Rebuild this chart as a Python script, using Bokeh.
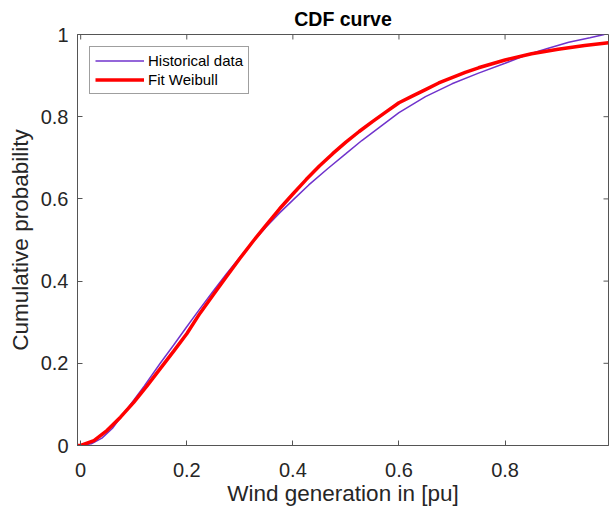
import math
from bokeh.plotting import figure
from bokeh.models import FixedTicker, Range1d, Legend, LegendItem
from bokeh.embed import file_html
from bokeh.resources import INLINE

# ---- data ----
hist_x = [0.0, 0.02, 0.04, 0.06, 0.075, 0.10, 0.12, 0.15, 0.175, 0.20, 0.225,
          0.25, 0.275, 0.30, 0.325, 0.35, 0.375, 0.40, 0.43, 0.466, 0.50, 0.53,
          0.56, 0.60, 0.65, 0.70, 0.75, 0.80, 0.84, 0.88, 0.92, 0.96, 0.987]
hist_y = [0.0, 0.004, 0.018, 0.042, 0.068, 0.110, 0.145, 0.200, 0.244, 0.289, 0.333,
          0.376, 0.418, 0.458, 0.496, 0.532, 0.566, 0.597, 0.634, 0.674, 0.710, 0.742,
          0.771, 0.810, 0.849, 0.880, 0.906, 0.930, 0.950, 0.966, 0.981, 0.992, 1.0]

fit_x = [-0.006, 0.0, 0.025, 0.05, 0.075, 0.10, 0.125, 0.15, 0.175, 0.20, 0.225,
         0.25, 0.275, 0.30, 0.325, 0.35, 0.375, 0.40, 0.425, 0.45, 0.475, 0.50,
         0.525, 0.55, 0.575, 0.60, 0.625, 0.65, 0.675, 0.70, 0.725, 0.75, 0.80,
         0.85, 0.90, 0.95, 0.995]
fit_y = [0.0, 0.0, 0.012, 0.037, 0.069, 0.105, 0.145, 0.187, 0.229, 0.272, 0.322,
         0.367, 0.411, 0.455, 0.497, 0.537, 0.576, 0.612, 0.647, 0.680, 0.710, 0.738,
         0.764, 0.788, 0.811, 0.834, 0.850, 0.866, 0.882, 0.895, 0.908, 0.919, 0.938,
         0.953, 0.964, 0.973, 0.980]

x_ticks = [0.0, 0.2, 0.4, 0.6, 0.8]
x_tick_labels = ["0", "0.2", "0.4", "0.6", "0.8"]
y_ticks = [0.0, 0.2, 0.4, 0.6, 0.8, 1.0]
y_tick_labels = ["0", "0.2", "0.4", "0.6", "0.8", "1"]
x_min, x_max = -0.006, 0.995
y_min, y_max = 0.0, 1.0

FONT = "Liberation Sans"
AX = "#262626"
LINE = "#555555"

p = figure(width=609, height=515, x_range=Range1d(x_min, x_max), y_range=Range1d(y_min, y_max),
           output_backend="svg", toolbar_location=None,
           min_border_left=77, min_border_right=1, min_border_top=34, min_border_bottom=70,
           x_axis_label="Wind generation in [pu]", y_axis_label="Cumulative probability")
p.grid.visible = False
p.outline_line_color = LINE
p.background_fill_color = "white"
p.border_fill_color = "white"

p.title.text = "CDF curve"
p.title.align = "center"
p.title.text_font = FONT
p.title.text_font_size = "19.5px"
p.title.text_font_style = "bold"
p.title.text_color = "#000000"

def style(ax, ticks, labels):
    ax.ticker = FixedTicker(ticks=ticks)
    ax.major_label_overrides = dict(zip(ticks, labels))
    ax.minor_tick_line_color = None
    ax.major_tick_in = 5
    ax.major_tick_out = 0
    ax.axis_line_color = LINE
    ax.major_tick_line_color = LINE
    ax.major_label_text_font = FONT
    ax.major_label_text_color = AX
    ax.major_label_text_font_size = "20px"
    ax.axis_label_text_font = FONT
    ax.axis_label_text_font_size = "22.5px"
    ax.axis_label_text_font_style = "normal"
    ax.axis_label_text_color = AX

style(p.xaxis[0], x_ticks, x_tick_labels)
style(p.yaxis[0], y_ticks, y_tick_labels)
p.xaxis[0].major_label_standoff = 17
p.xaxis[0].axis_label_standoff = 1
p.yaxis[0].major_label_standoff = 9
p.yaxis[0].axis_label_standoff = 5

# inward ticks on the top and right edges of the box (MATLAB "box on")
p.ray(x=x_ticks, y=[y_max] * len(x_ticks), length=5, length_units="screen",
      angle=-math.pi / 2, line_color=LINE, line_width=1)
p.ray(x=[x_max] * len(y_ticks), y=y_ticks, length=5, length_units="screen",
      angle=math.pi, line_color=LINE, line_width=1)

r_hist = p.line(hist_x, hist_y, line_color="#7033CC", line_width=1.5)
r_fit = p.line(fit_x, fit_y, line_color="#FF0000", line_width=3.5)

legend = Legend(items=[LegendItem(label="Historical data", renderers=[r_hist]),
                       LegendItem(label="Fit Weibull", renderers=[r_fit])],
                location="top_left", margin=12, padding=5, spacing=2,
                label_height=17, glyph_height=17, glyph_width=49, label_standoff=4,
                label_text_font=FONT, label_text_font_size="15px", label_text_color="#000000",
                border_line_color="#404040", border_line_width=1,
                background_fill_color="white", background_fill_alpha=1.0)
p.add_layout(legend)

open("out.html", "w").write(file_html(p, INLINE))
